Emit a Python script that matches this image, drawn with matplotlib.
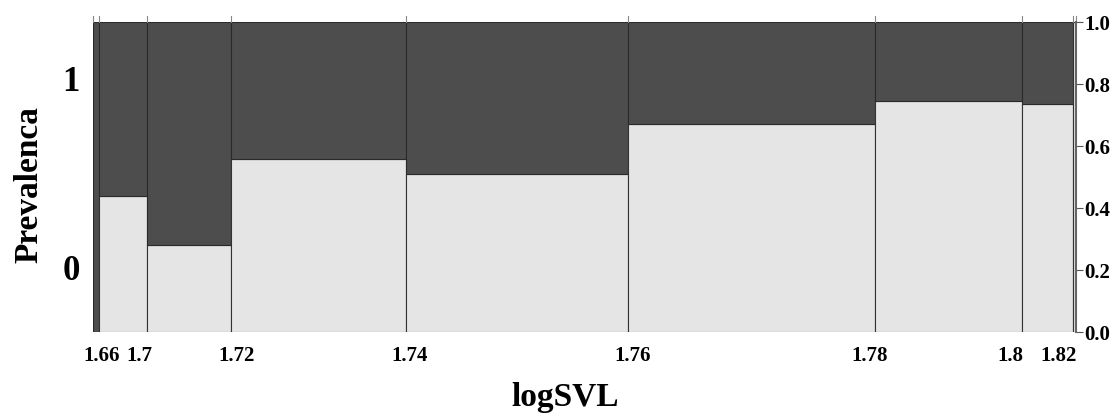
import numpy as np
import matplotlib
matplotlib.use("Agg")
import matplotlib.pyplot as plt
import matplotlib.transforms as mtransforms

# spinogram: bar widths are counts per logSVL bin, heights are share of class 0
counts = [2, 16, 28, 58, 74, 82, 49, 17, 1]
prev0 = [0.0, 0.44, 0.28, 0.558, 0.51, 0.67, 0.746, 0.735, 1.0]
break_labels = ["1.66", "1.7", "1.72", "1.74", "1.76", "1.78", "1.8", "1.82"]
label_nudge_px = [3, -8, 5, 4, 5, -5, -12, -14]

dark = "#4d4d4d"
light = "#e5e5e5"

plt.rcParams["font.family"] = ["Liberation Serif", "DejaVu Serif"]
plt.rcParams["font.weight"] = "bold"

fig = plt.figure(figsize=(11.18, 4.19), dpi=100)
ax = fig.add_axes([93 / 1118, 1 - 332 / 419, (1076 - 93) / 1118, 310 / 419])

edges = np.concatenate([[0], np.cumsum(counts)])
for i in range(len(counts)):
    x0, w = edges[i], counts[i]
    ax.bar(x0, prev0[i], width=w, align="edge", color=light,
           edgecolor="#333333", linewidth=0.8)
    ax.bar(x0, 1 - prev0[i], bottom=prev0[i], width=w, align="edge",
           color=dark, edgecolor="#2a2a2a", linewidth=0.8)

ax.set_xlim(0, edges[-1])
ax.set_ylim(0, 1)
for s in ["left", "top", "bottom"]:
    ax.spines[s].set_visible(False)
ax.spines["right"].set_color("#666666")
ax.spines["right"].set_linewidth(1.5)

# right axis ticks
ax.yaxis.tick_right()
ax.set_yticks(np.arange(0, 1.01, 0.2))
ax.set_yticklabels([f"{v:.1f}" for v in np.arange(0, 1.01, 0.2)], fontsize=15,
                   fontweight="bold")
ax.tick_params(axis="y", direction="out", length=5, width=0.8, color="#555555", pad=1)

# bottom: labels only, no tick marks
ax.set_xticks([])
for j, lab in enumerate(break_labels):
    trans = mtransforms.offset_copy(ax.get_xaxis_transform(), fig=fig,
                                    x=label_nudge_px[j] * 0.72, y=0, units="points")
    ax.text(edges[j + 1], -0.077, lab, transform=trans, ha="center", va="center",
            fontsize=15, fontweight="bold")

# short tick marks above the top at every bin boundary
for e in edges:
    ax.plot([e, e], [1.0, 1.018], color="#888888", linewidth=0.8,
            transform=ax.get_xaxis_transform(), clip_on=False)

# left class labels
ax.text(-0.022, 0.806, "1", transform=ax.transAxes, ha="center", va="center",
        fontsize=25, fontweight="bold")
ax.text(-0.022, 0.194, "0", transform=ax.transAxes, ha="center", va="center",
        fontsize=25, fontweight="bold")

fig.text(29 / 1118, 1 - 185 / 419, "Prevalenca", rotation=90, ha="center",
         va="center", fontsize=24, fontweight="bold")
fig.text(565 / 1118, 1 - 397 / 419, "logSVL", ha="center", va="center",
         fontsize=24, fontweight="bold")

fig.savefig("out.png", dpi=100)
